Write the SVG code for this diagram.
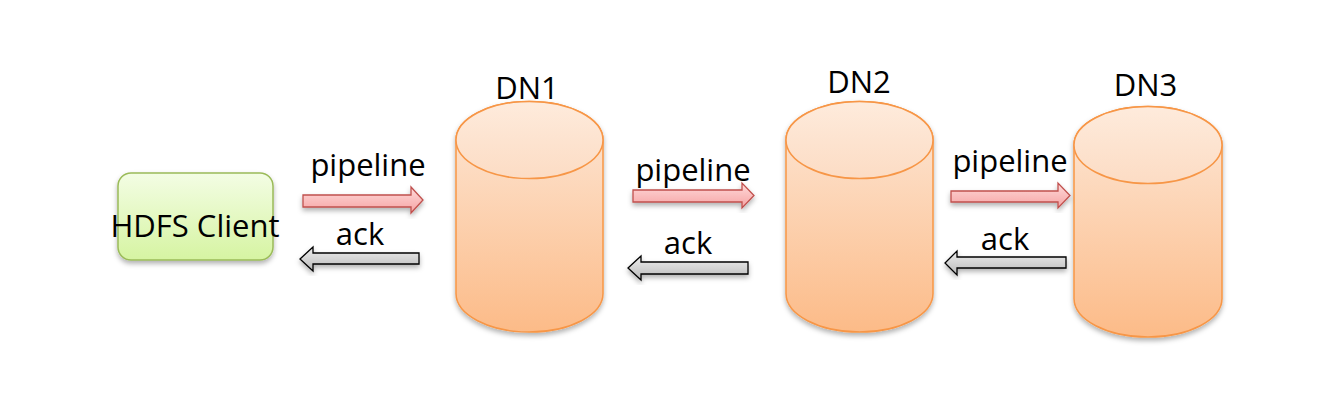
<svg xmlns="http://www.w3.org/2000/svg" width="1343" height="403" viewBox="0 0 1343 403">
<defs>
<linearGradient id="gCyl" x1="0" y1="0" x2="0" y2="1">
<stop offset="0" stop-color="#fde8d8"/>
<stop offset="1" stop-color="#fcbb88"/>
</linearGradient>
<linearGradient id="gTop" x1="0" y1="0" x2="0" y2="1">
<stop offset="0" stop-color="#feebdc"/>
<stop offset="1" stop-color="#fcdcc4"/>
</linearGradient>
<linearGradient id="gGreen" x1="0" y1="0" x2="0" y2="1">
<stop offset="0" stop-color="#f3fde4"/>
<stop offset="1" stop-color="#d6f4a2"/>
</linearGradient>
<linearGradient id="gRed" x1="0" y1="0" x2="0" y2="1">
<stop offset="0" stop-color="#ffdada"/>
<stop offset="1" stop-color="#f5a3a3"/>
</linearGradient>
<linearGradient id="gGrey" x1="0" y1="0" x2="0" y2="1">
<stop offset="0" stop-color="#eeeeee"/>
<stop offset="1" stop-color="#b9b9b9"/>
</linearGradient>
<filter id="sh" x="-20%" y="-20%" width="140%" height="140%">
<feDropShadow dx="0" dy="3" stdDeviation="2.5" flood-color="#000" flood-opacity="0.3"/>
</filter>
</defs>
<style>
.lbl{font-family:"Open Sans","Noto Sans","Liberation Sans",sans-serif;font-size:31px;fill:#000;text-anchor:middle}
.cyl{fill:url(#gCyl);stroke:#f79646;stroke-width:1.5}
.top{fill:url(#gTop);stroke:#f79646;stroke-width:1.5}
.fw{fill:url(#gRed);stroke:#c0504d;stroke-width:1.3}
.bw{fill:url(#gGrey);stroke:#000;stroke-width:1.3}
</style>
<g id="client">
<rect x="118" y="173" width="155" height="87" rx="13" ry="13" fill="url(#gGreen)" stroke="#9bbb59" stroke-width="1.5" filter="url(#sh)"/>
<text class="lbl" x="195" y="237">HDFS Client</text>
</g>
<g id="dn1">
<g filter="url(#sh)">
<path class="cyl" d="M456,140 L456,293.5 A73.5,38.5 0 0 0 603,293.5 L603,140 A73.5,38.5 0 0 0 456,140 Z"/>
<ellipse class="top" cx="529.5" cy="140" rx="73.5" ry="38.5"/>
</g>
<text class="lbl" x="527" y="99">DN1</text>
</g>
<g id="dn2">
<g filter="url(#sh)">
<path class="cyl" d="M786,140 L786,293.5 A73.5,38.5 0 0 0 933,293.5 L933,140 A73.5,38.5 0 0 0 786,140 Z"/>
<ellipse class="top" cx="859.5" cy="140" rx="73.5" ry="38.5"/>
</g>
<text class="lbl" x="859" y="93">DN2</text>
</g>
<g id="dn3">
<g filter="url(#sh)">
<path class="cyl" d="M1074,145 L1074,298.5 A74,38.5 0 0 0 1222,298.5 L1222,145 A74,38.5 0 0 0 1074,145 Z"/>
<ellipse class="top" cx="1148" cy="145" rx="74" ry="38.5"/>
</g>
<text class="lbl" x="1145.5" y="96">DN3</text>
</g>
<g id="connectors">
<polygon class="fw" filter="url(#sh)" points="303,195 411,195 411,187 423,200 411,213 411,207 303,207"/>
<polygon class="fw" filter="url(#sh)" points="633,190 742,190 742,183 754,195.5 742,208 742,202 633,202"/>
<polygon class="fw" filter="url(#sh)" points="951,191 1058,191 1058,183 1070,195.5 1058,208 1058,202 951,202"/>
<polygon class="bw" filter="url(#sh)" points="419,253 313,253 313,247 300,259 313,271 313,264 419,264"/>
<polygon class="bw" filter="url(#sh)" points="748,262 641,262 641,256 628,268 641,280 641,274 748,274"/>
<polygon class="bw" filter="url(#sh)" points="1066,257 957,257 957,251 945,263 957,275 957,268 1066,268"/>
<text class="lbl" x="368" y="176">pipeline</text>
<text class="lbl" x="693" y="181">pipeline</text>
<text class="lbl" x="1010" y="172">pipeline</text>
<text class="lbl" x="360" y="245">ack</text>
<text class="lbl" x="688" y="254">ack</text>
<text class="lbl" x="1005" y="250">ack</text>
</g>
</svg>
